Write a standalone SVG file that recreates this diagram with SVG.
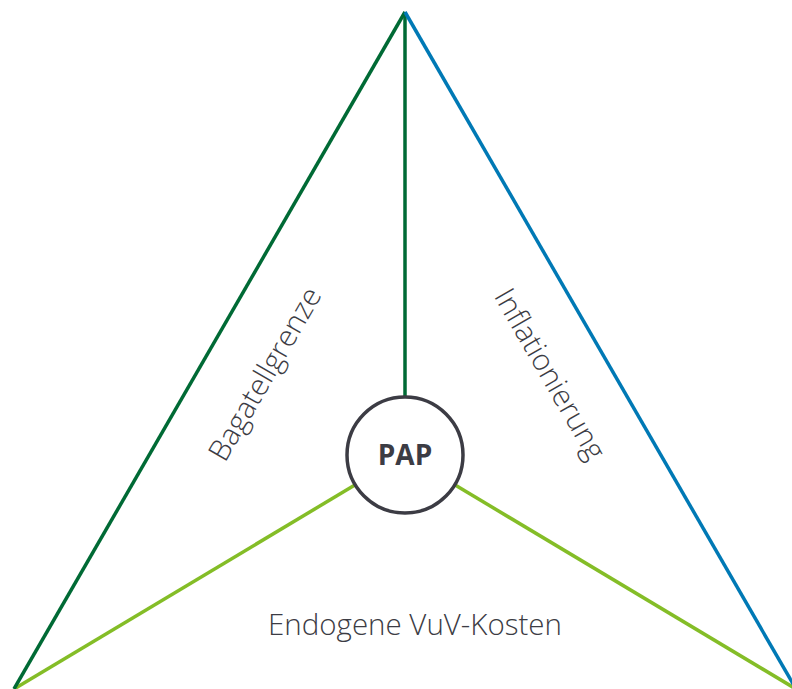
<svg xmlns="http://www.w3.org/2000/svg" width="792" height="689" viewBox="0 0 792 689">
<style>
.lbl{font-family:"Open Sans","Liberation Sans",sans-serif;font-weight:300;font-size:29.5px;fill:#3c3c44;text-anchor:middle}
.pap{font-family:"Open Sans","Liberation Sans",sans-serif;font-weight:700;font-size:28px;fill:#3c3c44;text-anchor:middle}
</style>
<rect width="792" height="689" fill="#ffffff"/>
<g id="connectors" fill="none" stroke-width="3.5">
<line x1="14" y1="689" x2="405" y2="455" stroke="#84bd27"/>
<line x1="796" y1="689" x2="405" y2="455" stroke="#84bd27"/>
<line x1="405" y1="12" x2="405" y2="455" stroke="#006a35"/>
<line x1="405" y1="12" x2="14" y2="689" stroke="#006a35"/>
<line x1="405" y1="12" x2="796" y2="689" stroke="#0079b5"/>
</g>
<g id="pap">
<circle cx="405" cy="455" r="58" fill="#ffffff" stroke="#3c3c44" stroke-width="3.5"/>
<text class="pap" x="405" y="465">PAP</text>
</g>
<g id="bagatellgrenze">
<text class="lbl" transform="translate(265,374) rotate(-60)" y="10">Bagatellgrenze</text>
</g>
<g id="inflationierung">
<text class="lbl" transform="translate(550,374) rotate(60)" y="10">Inflationierung</text>
</g>
<g id="endogene">
<text class="lbl" x="415" y="635">Endogene VuV-Kosten</text>
</g>
</svg>
